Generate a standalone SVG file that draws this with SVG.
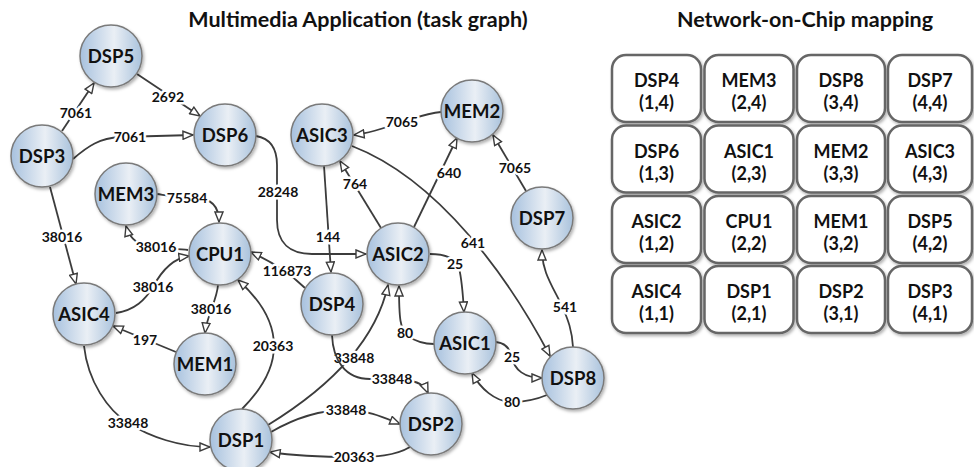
<svg xmlns="http://www.w3.org/2000/svg" width="974" height="467" viewBox="0 0 974 467">
<defs>
<linearGradient id="ng" x1="0" y1="0" x2="1" y2="0">
<stop offset="0" stop-color="#a7c1de"/>
<stop offset="0.55" stop-color="#eaeff5"/>
<stop offset="1" stop-color="#a9c2dc"/>
</linearGradient>
<filter id="sh" x="-20%" y="-20%" width="150%" height="150%">
<feDropShadow dx="1.5" dy="2" stdDeviation="1.5" flood-color="#000" flood-opacity="0.3"/>
</filter>
<marker id="ar" viewBox="0 0 12 10" refX="11" refY="5" markerWidth="12" markerHeight="10" markerUnits="userSpaceOnUse" orient="auto">
<path d="M1,1 L11,5 L1,9 Z" fill="#fff" stroke="#3c3c3c" stroke-width="1.4" stroke-linejoin="miter"/>
</marker>
</defs>
<style>
.title{font-family:Lato,"Liberation Sans",sans-serif;font-weight:bold;font-size:21.5px;fill:#111;text-anchor:middle}
.node circle{fill:url(#ng);stroke:#7a7a7a;stroke-width:1.5;filter:url(#sh)}
.node text{font-family:Lato,"Liberation Sans",sans-serif;font-weight:bold;font-size:18.5px;fill:#111;text-anchor:middle}
.edge{fill:none;stroke:#3c3c3c;stroke-width:1.8;marker-end:url(#ar)}
.el{font-family:Lato,"Liberation Sans",sans-serif;font-weight:bold;font-size:14px;fill:#111;text-anchor:middle;paint-order:stroke;stroke:#fff;stroke-width:5px;stroke-linejoin:round}
.cell rect{fill:#fff;stroke:#666;stroke-width:2.5;filter:url(#sh)}
.cell text{font-family:Lato,"Liberation Sans",sans-serif;font-weight:bold;font-size:18px;fill:#111;text-anchor:middle}
</style>
<rect width="974" height="467" fill="#fff"/>
<text class="title" x="358" y="27">Multimedia Application (task graph)</text>
<text class="title" x="805" y="27">Network-on-Chip mapping</text>

<g id="connectors">
<path class="edge" d="M62,131 L94,83"/>
<text class="el" x="76" y="118">7061</text>
<path class="edge" d="M137,74 L200,116"/>
<text class="el" x="168" y="102">2692</text>
<path class="edge" d="M73,159 C88,146 100,138 120,137 L193,135"/>
<text class="el" x="130" y="142">7061</text>
<path class="edge" d="M50,187 L76,284"/>
<text class="el" x="62" y="242">38016</text>
<path class="edge" d="M157,194 C170,196 180,198 195,198 C210,198 219,205 219,222"/>
<text class="el" x="187" y="203">75584</text>
<path class="edge" d="M188,250 C180,249 170,249 156,248 C140,247 130,240 126,226"/>
<text class="el" x="156" y="252">38016</text>
<path class="edge" d="M116,313 C135,310 145,300 153,287 C163,268 175,258 189,256"/>
<text class="el" x="153" y="292">38016</text>
<path class="edge" d="M218,285 C217,300 207,315 205,333"/>
<text class="el" x="211" y="314">38016</text>
<path class="edge" d="M176,352 L113,326"/>
<text class="el" x="145" y="345">197</text>
<path class="edge" d="M305,288 Q285,268 251,252"/>
<text class="el" x="287" y="276">116873</text>
<path class="edge" d="M242,409 C258,393 274,372 274,346 C274,318 256,296 238,280"/>
<text class="el" x="273" y="351">20363</text>
<path class="edge" d="M84,346 C88,382 108,410 128,423 C150,437 180,447 210,447"/>
<text class="el" x="128" y="428">33848</text>
<path class="edge" d="M256,136 C268,138 277,146 277,165 L277,220 C277,243 290,254 312,254 L366,254"/>
<text class="el" x="278" y="197">28248</text>
<path class="edge" d="M324,166 L331,272"/>
<text class="el" x="328" y="242">144</text>
<path class="edge" d="M381,228 L340,161"/>
<text class="el" x="355" y="189">764</text>
<path class="edge" d="M414,227 L457,138"/>
<text class="el" x="449" y="178">640</text>
<path class="edge" d="M441,112 C428,113 418,117 402,122 C385,128 370,133 354,135"/>
<text class="el" x="402" y="127">7065</text>
<path class="edge" d="M526,191 L493,135"/>
<text class="el" x="515" y="173">7065</text>
<path class="edge" d="M352,146 C440,180 510,280 550,356"/>
<text class="el" x="473" y="248">641</text>
<path class="edge" d="M430,254 C445,254 456,258 459,268 C462,280 463,295 464,312"/>
<text class="el" x="455" y="269">25</text>
<path class="edge" d="M573,347 C572,330 568,320 563,308 C552,285 542,272 542,250"/>
<text class="el" x="565" y="312">541</text>
<path class="edge" d="M434,344 C422,344 415,341 408,336 C400,330 399,318 399,286"/>
<text class="el" x="405" y="338">80</text>
<path class="edge" d="M268,425 C325,390 375,345 388,285"/>
<text class="el" x="354" y="363">33848</text>
<path class="edge" d="M332,335 C333,360 345,379 370,379 L405,380 C418,381 425,386 428,393"/>
<text class="el" x="392" y="384">33848</text>
<path class="edge" d="M271,432 C295,418 322,410 346,410 C368,410 385,418 400,424"/>
<text class="el" x="346" y="415">33848</text>
<path class="edge" d="M410,447 C395,456 375,457 354,457 C320,457 295,456 270,452"/>
<text class="el" x="354" y="462">20363</text>
<path class="edge" d="M496,342 C505,343 510,348 512,357 C514,370 525,378 542,378"/>
<text class="el" x="512" y="362">25</text>
<path class="edge" d="M547,395 C535,400 522,402 512,402 C495,402 480,388 472,373"/>
<text class="el" x="512" y="407">80</text>
</g>

<g id="DSP5" class="node"><circle cx="111" cy="56" r="31"/><text x="111" y="63">DSP5</text></g>
<g id="DSP6" class="node"><circle cx="225" cy="135" r="31"/><text x="225" y="142">DSP6</text></g>
<g id="DSP3" class="node"><circle cx="42" cy="156" r="31"/><text x="42" y="163">DSP3</text></g>
<g id="ASIC3" class="node"><circle cx="322" cy="135" r="31"/><text x="322" y="142">ASIC3</text></g>
<g id="MEM2" class="node"><circle cx="472" cy="111" r="31"/><text x="472" y="118">MEM2</text></g>
<g id="MEM3" class="node"><circle cx="126" cy="194" r="31"/><text x="126" y="201">MEM3</text></g>
<g id="CPU1" class="node"><circle cx="220" cy="254" r="31"/><text x="220" y="261">CPU1</text></g>
<g id="ASIC2" class="node"><circle cx="398" cy="254" r="31"/><text x="398" y="261">ASIC2</text></g>
<g id="DSP7" class="node"><circle cx="542" cy="218" r="31"/><text x="542" y="225">DSP7</text></g>
<g id="DSP4" class="node"><circle cx="332" cy="304" r="31"/><text x="332" y="311">DSP4</text></g>
<g id="ASIC4" class="node"><circle cx="84" cy="314" r="31"/><text x="84" y="321">ASIC4</text></g>
<g id="MEM1" class="node"><circle cx="205" cy="364" r="31"/><text x="205" y="371">MEM1</text></g>
<g id="DSP1" class="node"><circle cx="241" cy="440" r="31"/><text x="241" y="447">DSP1</text></g>
<g id="DSP2" class="node"><circle cx="431" cy="424" r="31"/><text x="431" y="431">DSP2</text></g>
<g id="ASIC1" class="node"><circle cx="465" cy="343" r="31"/><text x="465" y="350">ASIC1</text></g>
<g id="DSP8" class="node"><circle cx="573" cy="378" r="31"/><text x="573" y="385">DSP8</text></g>

<g id="noc">
<g id="cell-1-4" class="cell"><rect x="612" y="55" width="89" height="67" rx="14"/><text x="656.5" y="87">DSP4</text><text x="656.5" y="109">(1,4)</text></g>
<g id="cell-2-4" class="cell"><rect x="704.5" y="55" width="89" height="67" rx="14"/><text x="749" y="87">MEM3</text><text x="749" y="109">(2,4)</text></g>
<g id="cell-3-4" class="cell"><rect x="797" y="55" width="88" height="67" rx="14"/><text x="841" y="87">DSP8</text><text x="841" y="109">(3,4)</text></g>
<g id="cell-4-4" class="cell"><rect x="888" y="55" width="84" height="67" rx="14"/><text x="930" y="87">DSP7</text><text x="930" y="109">(4,4)</text></g>

<g id="cell-1-3" class="cell"><rect x="612" y="125.5" width="89" height="67" rx="14"/><text x="656.5" y="157.5">DSP6</text><text x="656.5" y="179.5">(1,3)</text></g>
<g id="cell-2-3" class="cell"><rect x="704.5" y="125.5" width="89" height="67" rx="14"/><text x="749" y="157.5">ASIC1</text><text x="749" y="179.5">(2,3)</text></g>
<g id="cell-3-3" class="cell"><rect x="797" y="125.5" width="88" height="67" rx="14"/><text x="841" y="157.5">MEM2</text><text x="841" y="179.5">(3,3)</text></g>
<g id="cell-4-3" class="cell"><rect x="888" y="125.5" width="84" height="67" rx="14"/><text x="930" y="157.5">ASIC3</text><text x="930" y="179.5">(4,3)</text></g>

<g id="cell-1-2" class="cell"><rect x="612" y="196" width="89" height="67" rx="14"/><text x="656.5" y="228">ASIC2</text><text x="656.5" y="250">(1,2)</text></g>
<g id="cell-2-2" class="cell"><rect x="704.5" y="196" width="89" height="67" rx="14"/><text x="749" y="228">CPU1</text><text x="749" y="250">(2,2)</text></g>
<g id="cell-3-2" class="cell"><rect x="797" y="196" width="88" height="67" rx="14"/><text x="841" y="228">MEM1</text><text x="841" y="250">(3,2)</text></g>
<g id="cell-4-2" class="cell"><rect x="888" y="196" width="84" height="67" rx="14"/><text x="930" y="228">DSP5</text><text x="930" y="250">(4,2)</text></g>

<g id="cell-1-1" class="cell"><rect x="612" y="266" width="89" height="67" rx="14"/><text x="656.5" y="298">ASIC4</text><text x="656.5" y="320">(1,1)</text></g>
<g id="cell-2-1" class="cell"><rect x="704.5" y="266" width="89" height="67" rx="14"/><text x="749" y="298">DSP1</text><text x="749" y="320">(2,1)</text></g>
<g id="cell-3-1" class="cell"><rect x="797" y="266" width="88" height="67" rx="14"/><text x="841" y="298">DSP2</text><text x="841" y="320">(3,1)</text></g>
<g id="cell-4-1" class="cell"><rect x="888" y="266" width="84" height="67" rx="14"/><text x="930" y="298">DSP3</text><text x="930" y="320">(4,1)</text></g>
</g>
</svg>
